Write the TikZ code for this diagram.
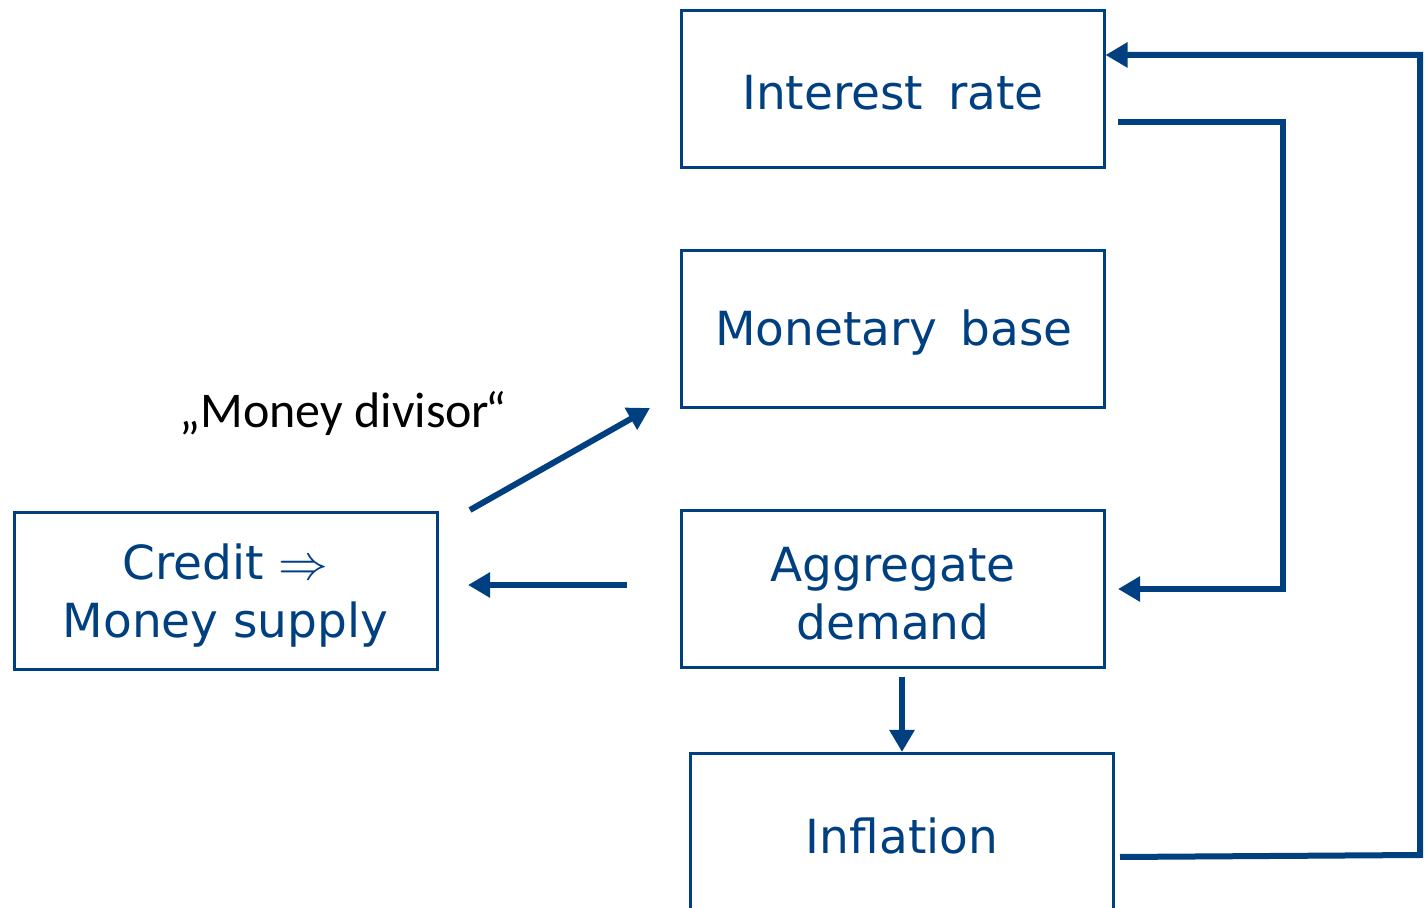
\documentclass[tikz,border=0pt]{standalone}
\usepackage{fontspec}
\setmainfont{DejaVu Sans}
\newfontfamily\labelfont{Carlito}
\usetikzlibrary{arrows.meta}
\definecolor{ecbblue}{RGB}{0,63,128}
\begin{document}
\begin{tikzpicture}[x=0.5pt,y=-0.5pt,
  box/.style={draw=ecbblue, line width=1.5pt, minimum width=211.5pt, minimum height=78.5pt},
  boxtext/.style={text=ecbblue, font=\fontsize{23.5}{29}\selectfont, align=center, inner sep=0pt},
  conn/.style={draw=ecbblue, line width=3pt, -{Triangle[length=11pt,width=12pt]}}]
\useasboundingbox (0,0) rectangle (1425,908);
\begin{scope}
\clip (0,0) rectangle (1425,908);
\node[box] (ir) at (892.5,89.5) {};
\node[boxtext] (irt) at (893,93) {Interest\kern 5pt\ rate};
\node[box] (mb) at (892.5,329) {};
\node[boxtext] (mbt) at (894,333) {Monetary\kern 4pt\ base};
\node[box] (ad) at (892.5,589) {};
\node[boxtext] (adt) at (893,594) {Aggregate\\demand};
\node[box, minimum height=80pt, anchor=north] (inf) at (902,752) {};
\node[boxtext] (inft) at (902,836) {Inflation};
\node[box] (cr) at (225.5,591) {};
\node[boxtext] (crt) at (225.5,596) {Credit $\Rightarrow$\\Money supply};
\node[font=\labelfont\fontsize{25}{30}\selectfont, text=black] (md) at (343,414) {„Money divisor\kern-2pt“};
\end{scope}
% free connector ends
\coordinate (d1) at (470,510);
\coordinate (d2) at (650,408);
\coordinate (h1) at (627,585);
\coordinate (h2) at (468,585);
\coordinate (v1) at (902,677);
\coordinate (r1) at (1118,122);
\coordinate (r2) at (1283,122);
\coordinate (r3) at (1283,589);
\coordinate (r4) at (1118,589);
\coordinate (f1) at (1120,857);
\coordinate (f2) at (1420,855);
\coordinate (f3) at (1420,55);
\draw[conn] (d1) -- (d2);
\draw[conn] (h1) -- (h2);
\draw[conn] (v1) -- (v1 |- inf.north);
\draw[conn] (r1) -- (r2) -- (r3) -- (r4);
\draw[conn] (f1) -- (f2) -- (f3) -- (f3 -| ir.east);
\end{tikzpicture}
\end{document}
